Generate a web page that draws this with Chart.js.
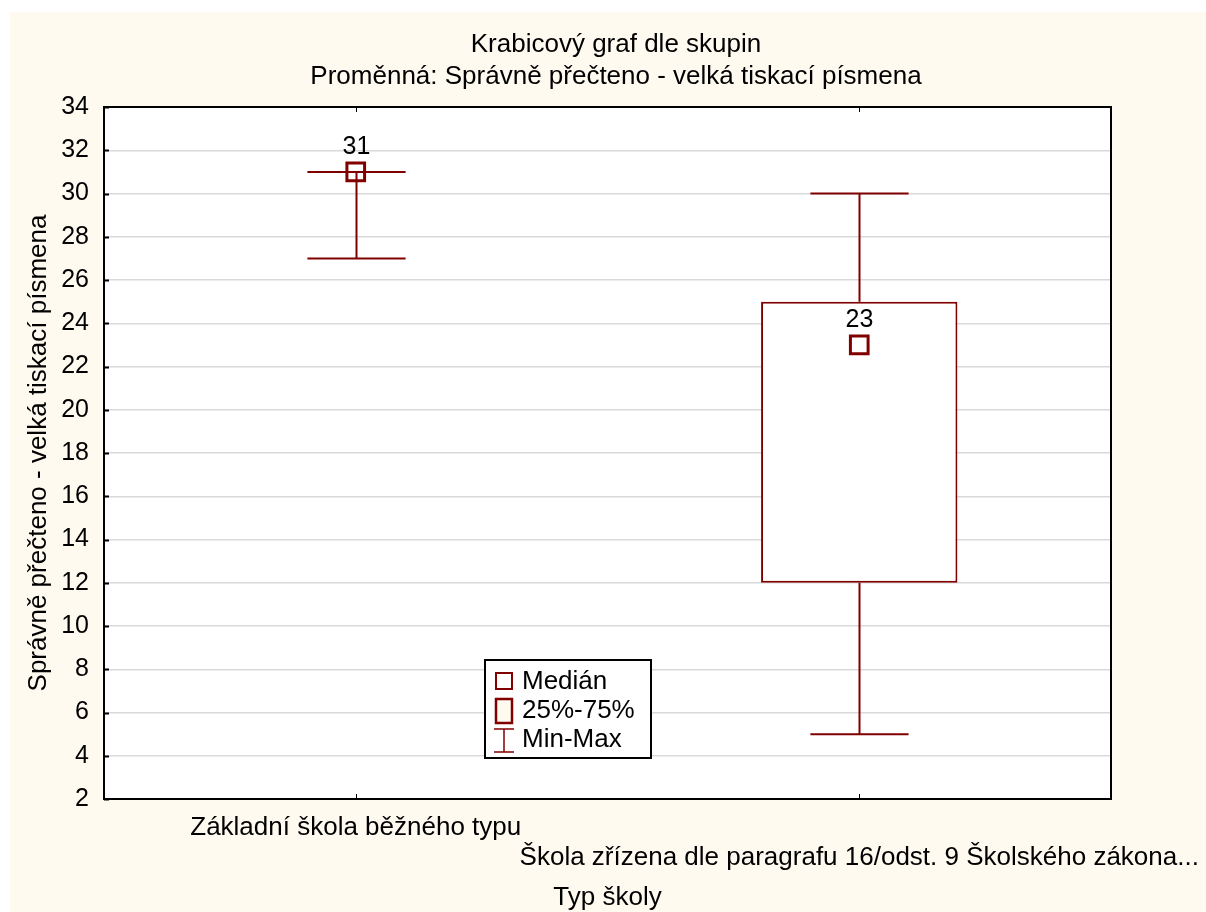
<!DOCTYPE html>
<html>
<head>
<meta charset="utf-8">
<script src="https://cdn.jsdelivr.net/npm/chart.js@4"></script>
<style>
  html, body { margin: 0; padding: 0; background: #ffffff; }
  #wrap { position: absolute; left: 10px; top: 12px; width: 1196px; height: 900px; background: #fffaf0; }
</style>
</head>
<body>
<div id="wrap"><canvas id="myChart"></canvas></div>
<script>
// data
var categories = ['Základní škola běžného typu', 'Škola zřízena dle paragrafu 16/odst. 9 Školského zákona...'];
var medians = [31, 23];
var q1 = [31, 12];
var q3 = [31, 25];
var mins = [27, 5];
var maxs = [31, 30];
var yMin = 2, yMax = 34, yStep = 2;

var dark = '#800000';
var font = 'Liberation Sans, Arial, sans-serif';

// second label goes on a second line, like the original
var xLabels = categories.map(function(c, i) { return i % 2 ? ['', c] : [c]; });

var boxPlotExtras = {
    id: 'boxPlotExtras',
    beforeDraw: function(chart) {
        var a = chart.chartArea, ctx = chart.ctx;
        ctx.save();
        ctx.fillStyle = '#ffffff';
        ctx.fillRect(a.left, a.top, a.right - a.left, a.bottom - a.top);
        ctx.restore();
    },
    afterDatasetsDraw: function(chart) {
        var ctx = chart.ctx;
        var x = chart.scales.x, y = chart.scales.y;
        var bars = chart.getDatasetMeta(0).data;
        ctx.save();
        ctx.strokeStyle = dark;
        ctx.lineWidth = 2;
        for (var i = 0; i < categories.length; i++) {
            var cx = Math.round(x.getPixelForValue(i)) + 0.5;
            var half = bars[i].width / 4;
            var pMin = y.getPixelForValue(mins[i]), pMax = y.getPixelForValue(maxs[i]);
            var pQ1 = y.getPixelForValue(q1[i]), pQ3 = y.getPixelForValue(q3[i]);
            ctx.beginPath();
            ctx.moveTo(cx, pQ3); ctx.lineTo(cx, pMax);
            ctx.moveTo(cx, pQ1); ctx.lineTo(cx, pMin);
            ctx.moveTo(cx - half, pMax); ctx.lineTo(cx + half, pMax);
            ctx.moveTo(cx - half, pMin); ctx.lineTo(cx + half, pMin);
            ctx.stroke();
            // median value label
            ctx.fillStyle = '#000';
            ctx.font = '25px ' + font;
            ctx.textAlign = 'center';
            ctx.textBaseline = 'middle';
            ctx.fillText(String(medians[i]), cx, y.getPixelForValue(medians[i]) - 25);
        }
        ctx.restore();
    },
    afterDraw: function(chart) {
        var ctx = chart.ctx, a = chart.chartArea;
        var x = chart.scales.x, y = chart.scales.y;
        ctx.save();
        // frame
        ctx.strokeStyle = '#000';
        ctx.lineWidth = 2;
        ctx.strokeRect(a.left, a.top, a.right - a.left, a.bottom - a.top);
        // inner tick marks
        ctx.beginPath();
        y.ticks.forEach(function(t) {
            var py = Math.round(y.getPixelForValue(t.value)) + 0.5;
            ctx.moveTo(a.left, py); ctx.lineTo(a.left + 5, py);
        });
        ctx.stroke();
        ctx.lineWidth = 1;
        ctx.beginPath();
        for (var i = 0; i < categories.length; i++) {
            var px = Math.round(x.getPixelForValue(i)) + 0.5;
            ctx.moveTo(px, a.bottom); ctx.lineTo(px, a.bottom - 5);
            ctx.moveTo(px, a.top); ctx.lineTo(px, a.top + 5);
        }
        ctx.stroke();

        // legend box
        var lx = a.left + 381, ly = a.top + 553;
        ctx.fillStyle = '#fff';
        ctx.fillRect(lx, ly, 166, 98);
        ctx.lineWidth = 2;
        ctx.strokeRect(lx, ly, 166, 98);
        ctx.strokeStyle = dark;
        ctx.strokeRect(lx + 11, ly + 13, 16, 16);
        ctx.fillStyle = '#fffaf0';
        ctx.lineWidth = 2.5;
        ctx.fillRect(lx + 11, ly + 39, 16, 24);
        ctx.strokeRect(lx + 11, ly + 39, 16, 24);
        ctx.lineWidth = 1.5;
        ctx.beginPath();
        ctx.moveTo(lx + 9, ly + 69); ctx.lineTo(lx + 29, ly + 69);
        ctx.moveTo(lx + 19, ly + 69); ctx.lineTo(lx + 19, ly + 92);
        ctx.moveTo(lx + 9, ly + 92); ctx.lineTo(lx + 29, ly + 92);
        ctx.stroke();
        ctx.fillStyle = '#000';
        ctx.font = '26px ' + font;
        ctx.textAlign = 'left';
        ctx.textBaseline = 'middle';
        ctx.fillText('Medián', lx + 37, ly + 22);
        ctx.fillText('25%-75%', lx + 37, ly + 51);
        ctx.fillText('Min-Max', lx + 37, ly + 80);
        ctx.restore();
    }
};

var ctx = document.getElementById('myChart').getContext('2d');
var myChart = new Chart(ctx, {
    type: 'bar',
    data: {
        labels: xLabels,
        datasets: [{
            label: '25%-75%',
            data: q1.map(function(v, i) { return [v, q3[i]]; }),
            backgroundColor: '#ffffff',
            borderColor: dark,
            borderWidth: 2,
            borderSkipped: false,
            barPercentage: 0.39,
            categoryPercentage: 1,
            order: 1
        }, {
            type: 'line',
            label: 'Medián',
            data: medians,
            showLine: false,
            pointStyle: 'rect',
            pointRadius: 12.5,
            pointBorderWidth: 3,
            pointBorderColor: dark,
            pointBackgroundColor: 'rgba(0,0,0,0)',
            order: 0
        }]
    },
    options: {
        responsive: true,
        maintainAspectRatio: false,
        animation: false,
        events: [],
        layout: { padding: { left: 16, top: 0, right: 0, bottom: 0 } },
        plugins: {
            legend: { display: false },
            tooltip: { enabled: false },
            title: {
                display: true,
                text: ['Krabicový graf dle skupin', 'Proměnná: Správně přečteno - velká tiskací písmena'],
                color: '#000',
                font: { family: font, size: 26, weight: 'normal', lineHeight: '32px' },
                padding: { top: 17, bottom: 14 }
            }
        },
        scales: {
            x: {
                grid: { display: false, drawTicks: false },
                border: { display: false },
                ticks: {
                    color: '#000',
                    font: { family: font, size: 26, lineHeight: '30px' },
                    padding: 14,
                    maxRotation: 0,
                    minRotation: 0,
                    autoSkip: false
                },
                title: {
                    display: true,
                    text: 'Typ školy',
                    color: '#000',
                    font: { family: font, size: 26, lineHeight: 1 },
                    padding: { top: 0, bottom: 1 }
                },
                afterFit: function(scale) {
                    scale.height = 113;
                    scale.paddingLeft = 0;
                    scale.paddingRight = 0;
                }
            },
            y: {
                min: yMin,
                max: yMax,
                grid: { color: '#d9d9d9', lineWidth: 1.5, drawTicks: false },
                border: { display: false },
                ticks: {
                    stepSize: yStep,
                    color: '#000',
                    font: { family: font, size: 25 },
                    padding: 15
                },
                title: {
                    display: true,
                    text: 'Správně přečteno - velká tiskací písmena',
                    color: '#000',
                    font: { family: font, size: 26, lineHeight: 1 },
                    padding: { top: 0, bottom: 0 }
                },
                afterFit: function(scale) {
                    scale.width = 78;
                }
            },
            // empty right margin so the title centres on the whole picture
            y2: {
                position: 'right',
                min: yMin,
                max: yMax,
                grid: { display: false, drawTicks: false },
                border: { display: false },
                ticks: { display: false },
                afterFit: function(scale) {
                    scale.width = 95;
                    scale.paddingTop = 0;
                    scale.paddingBottom = 0;
                }
            }
        }
    },
    plugins: [boxPlotExtras]
});
</script>
</body>
</html>
